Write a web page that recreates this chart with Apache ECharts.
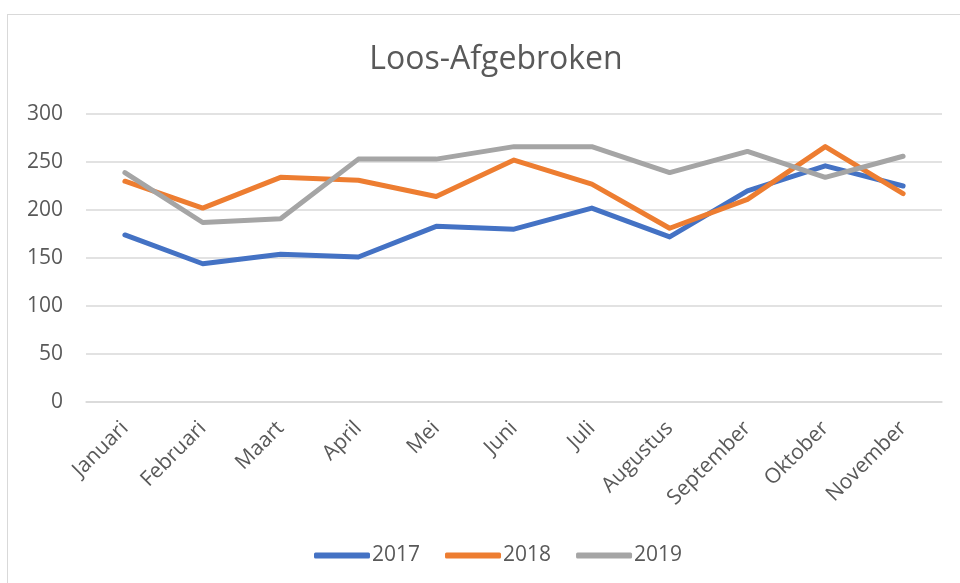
<!DOCTYPE html>
<html><head><meta charset="utf-8">
<script src="https://cdn.jsdelivr.net/npm/echarts@6/dist/echarts.min.js"></script>
<style>
html,body{margin:0;padding:0;background:#fff;}
#frame{position:absolute;left:7px;top:14px;width:1000px;height:600px;border:1.5px solid #D9D9D9;box-sizing:border-box;}
#c{position:absolute;left:0;top:0;width:960px;height:583px;}
</style></head>
<body>
<div id="frame"></div>
<div id="c"></div>
<script>
const categories = ['Januari','Februari','Maart','April','Mei','Juni','Juli','Augustus','September','Oktober','November'];
const s2017 = [174,144,154,151,183,180,202,172,220,246,225];
const s2018 = [230,202,234,231,214,252,227,181,211,266,217];
const s2019 = [239,187,191,253,253,266,266,239,261,234,256];
const yTicks = {min:0, max:300, interval:50};

const font = "'Open Sans', 'Noto Sans', sans-serif";
const chart = echarts.init(document.getElementById('c'));
const mk = (name, data, color) => ({
  name, type:'line', data, symbol:'none', smooth:false,
  lineStyle:{color, width:5, cap:'round', join:'round'}, itemStyle:{color}
});
chart.setOption({
  animation:false,
  title:{text:'Loos-Afgebroken', left:491, textAlign:'center', top:39,
    textStyle:{fontFamily:font, fontWeight:'normal', fontSize:32, color:'#595959'}},
  legend:{top:540, left:309, itemWidth:56, itemHeight:6, itemGap:25,
    icon:'roundRect',
    textStyle:{fontFamily:font, fontSize:21, color:'#595959', padding:[0,0,0,-3]},
    data:['2017','2018','2019']},
  grid:{left:86, right:18, top:114, bottom:181, containLabel:false},
  xAxis:{type:'category', data:categories, boundaryGap:true,
    axisLine:{show:true, lineStyle:{color:'#D9D9D9', width:1.5}},
    axisTick:{show:false},
    axisLabel:{rotate:45, fontFamily:font, fontSize:21, color:'#595959', margin:23, interval:0}},
  yAxis:{type:'value', min:yTicks.min, max:yTicks.max, interval:yTicks.interval,
    axisLine:{show:false}, axisTick:{show:false},
    splitLine:{lineStyle:{color:'#D9D9D9', width:1.5}},
    axisLabel:{fontFamily:font, fontSize:21, color:'#595959', margin:23}},
  series:[mk('2017',s2017,'#4472C4'), mk('2018',s2018,'#ED7D31'), mk('2019',s2019,'#A5A5A5')]
});
</script>
</body></html>
